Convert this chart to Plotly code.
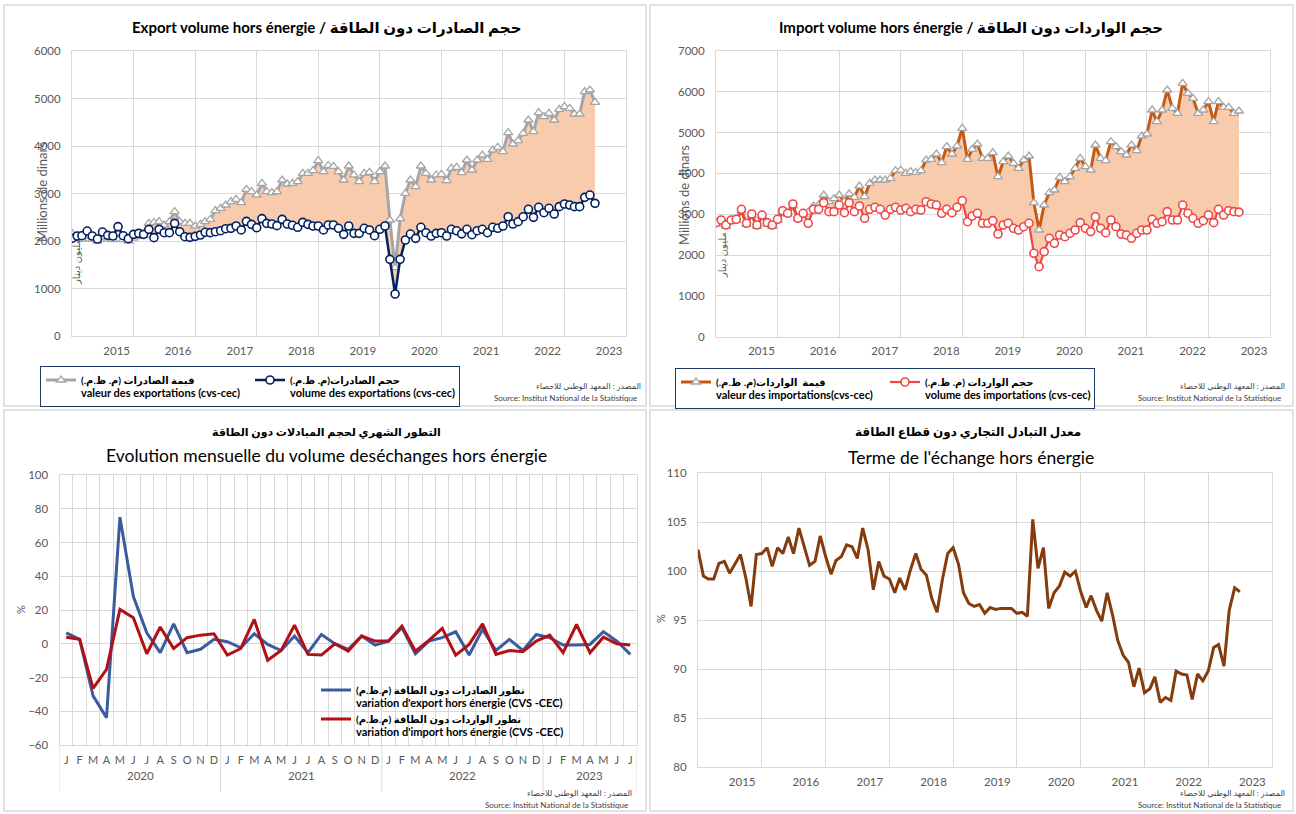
import plotly.graph_objects as go
import pandas as pd

W, H = 1296, 814
FONT = "Lato, 'DejaVu Sans', sans-serif"
GRID = "#D9D9D9"
TICK = "#595959"


def px(x):
    return x / W


def py(y):
    return 1 - y / H


# ---------------- data ----------------
months = pd.date_range("2015-01-01", periods=103, freq="MS")
years = [2015, 2016, 2017, 2018, 2019, 2020, 2021, 2022, 2023]

export_value = [2160, 2050, 2040, 2100, 2040, 2000, 2080, 2040, 2030, 2150, 2030, 2000,
                2060, 2100, 2120, 2370, 2390, 2407, 2337, 2407, 2618, 2407, 2372, 2372,
                2316, 2350, 2407, 2456, 2639, 2688, 2758, 2828, 2877, 2807, 3088, 3039,
                2968, 3214, 3039, 3018, 3039, 3284, 3200, 3214, 3249, 3425, 3425, 3481,
                3691, 3460, 3590, 3570, 3460, 3284, 3579, 3390, 3249, 3425, 3446, 3249,
                3460, 3579, 2442, 1439, 2470, 3004, 3284, 3144, 3579, 3425, 3284, 3390,
                3404, 3270, 3530, 3550, 3440, 3705, 3495, 3705, 3810, 3720, 3916, 3972,
                3881, 4281, 4042, 4112, 4267, 4547, 4302, 4702, 4618, 4688, 4547, 4772,
                4828, 4793, 4674, 4674, 5144, 5179, 4919]

export_volume = [2056, 2105, 2112, 2210, 2105, 2042, 2189, 2119, 2105, 2302, 2112, 2049,
                 2140, 2161, 2140, 2245, 2070, 2245, 2175, 2175, 2372, 2196, 2091, 2077,
                 2098, 2126, 2183, 2176, 2196, 2217, 2259, 2266, 2316, 2232, 2414, 2351,
                 2281, 2470, 2372, 2358, 2323, 2456, 2358, 2330, 2288, 2393, 2351, 2316,
                 2316, 2232, 2337, 2337, 2267, 2140, 2316, 2161, 2161, 2267, 2232, 2112,
                 2246, 2316, 1614, 884, 1614, 2021, 2147, 2056, 2288, 2175, 2105, 2161,
                 2175, 2105, 2246, 2215, 2150, 2246, 2133, 2217, 2246, 2175, 2288, 2267,
                 2316, 2512, 2358, 2407, 2512, 2667, 2498, 2709, 2596, 2688, 2568, 2723,
                 2779, 2758, 2723, 2723, 2919, 2968, 2793]

import_value = [2760, 2830, 2700, 2830, 2850, 3080, 2750, 2970, 2700, 2950, 2760, 2700,
                2850, 3050, 3000, 3200, 2880, 3000, 3050, 3200, 3225, 3470, 3306, 3380,
                3471, 3306, 3500, 3414, 3691, 3430, 3757, 3838, 3838, 3838, 3879, 4066,
                4082, 4001, 4042, 4025, 4066, 4328, 4344, 4475, 4263, 4655, 4475, 4671,
                5105, 4344, 4590, 4720, 4370, 4370, 4508, 3920, 4287, 4427, 4247, 4125,
                4328, 4427, 3280, 2613, 3225, 3527, 3593, 3904, 3797, 3920, 4125, 4370,
                4165, 4083, 4696, 4370, 4311, 4777, 4655, 4532, 4451, 4696, 4557, 4917,
                4966, 5554, 5267, 5554, 6044, 5596, 5473, 6208, 5963, 5841, 5473, 5554,
                5759, 5267, 5759, 5620, 5620, 5473, 5529]

import_volume = [2793, 2858, 2735, 2858, 2875, 3120, 2777, 3005, 2735, 2980, 2793, 2735,
                 2875, 3086, 3022, 3250, 2900, 3022, 2777, 3120, 3120, 3282, 3062, 3062,
                 3225, 3037, 3282, 3062, 3201, 2900, 3120, 3169, 3120, 2980, 3120, 3169,
                 3103, 3144, 3062, 3120, 3103, 3306, 3250, 3225, 3022, 3120, 3037, 3169,
                 3331, 2816, 2956, 3022, 2777, 2777, 2842, 2515, 2735, 2777, 2655, 2613,
                 2694, 2777, 2042, 1713, 2082, 2409, 2287, 2490, 2449, 2532, 2613, 2793,
                 2655, 2573, 2939, 2655, 2547, 2858, 2694, 2515, 2490, 2409, 2532, 2613,
                 2613, 2875, 2777, 2816, 3062, 2858, 2858, 3225, 3022, 2900, 2777, 2842,
                 2980, 2793, 3120, 2980, 3086, 3062, 3050]

terms_of_trade = [102.2, 99.5, 99.2, 99.2, 100.8, 101.0, 99.8, 100.7, 101.7, 99.4, 96.4, 101.7,
                  101.8, 102.4, 100.5, 102.4, 101.8, 103.5, 101.8, 104.4, 102.6, 100.6, 101.0, 103.6,
                  101.5, 99.7, 101.1, 101.5, 102.7, 102.5, 101.3, 104.4, 102.2, 98.1, 101.0, 99.5,
                  99.2, 97.8, 99.3, 98.1, 100.1, 101.8, 100.2, 99.6, 97.2, 95.8, 99.2, 101.8,
                  102.4, 100.7, 97.8, 96.7, 96.4, 96.6, 95.7, 96.3, 96.1, 96.2, 96.2, 96.2,
                  95.7, 95.8, 95.4, 105.3, 100.3, 102.4, 96.2, 97.8, 98.5, 99.9, 99.5, 100.0,
                  97.9, 96.3, 97.5, 96.0, 94.9, 97.8, 95.6, 92.9, 91.4, 90.7, 88.2, 90.1,
                  87.6, 88.0, 89.2, 86.6, 87.1, 86.8, 89.8, 89.5, 89.4, 86.9, 89.5, 88.8,
                  89.8, 92.2, 92.5, 90.3, 96.0, 98.3, 97.9]

month_letters = ["J", "F", "M", "A", "M", "J", "J", "A", "S", "O", "N", "D"] * 3 + \
                ["J", "F", "M", "A", "M", "J", "J"]
var_years = ["2020", "2021", "2022", "2023"]
var_year_months = [12, 12, 12, 7]

export_var = [6.5, 2.6, -30.9, -43.8, 75.0, 28.0, 6.5, -5.3, 11.8, -5.3, -3.3, 2.6,
              1.2, -2.4, 5.9, -0.4, -4.0, 4.6, -5.3, 5.5, 0.0, -3.3, 4.6, -0.8,
              1.6, 9.5, -5.9, 1.6, 3.6, 7.1, -6.7, 8.5, -4.0, 2.6, -4.0, 5.5,
              3.6, -0.8, -0.8, -0.4, 7.1, 1.6, -6.3]

import_var = [3.9, 2.6, -26.4, -15.2, 20.3, 15.4, -5.9, 9.9, -2.8, 3.6, 5.1, 5.9,
              -6.7, -2.8, 14.4, -9.8, -4.0, 11.0, -6.3, -6.7, 0.0, -4.4, 4.6, 1.6,
              1.6, 10.5, -4.4, 2.0, 9.1, -6.7, -0.4, 11.8, -6.3, -4.0, -4.7, 1.6,
              5.1, -5.3, 11.4, -5.3, 3.9, 0.0, -0.8]

# ---------------- figure ----------------
fig = go.Figure()

RLE, PDF = "\u202b", "\u202c"


def ar(t):
    return RLE + t + PDF


def legend_name(arabic, french, fsize=11):
    return ("<b>" + ar(arabic) + "</b><br><span style='font-size:%spx'><b>" % fsize
            + french + "</b></span>")


# Top-left : exports
fig.add_trace(go.Scatter(x=months, y=export_volume, mode="lines", line=dict(width=0),
                         showlegend=False, hoverinfo="skip", xaxis="x", yaxis="y"))
fig.add_trace(go.Scatter(x=months, y=export_value, mode="lines", line=dict(width=0),
                         fill="tonexty", fillcolor="#F8CBAD", showlegend=False,
                         hoverinfo="skip", xaxis="x", yaxis="y"))
fig.add_trace(go.Scatter(
    x=months, y=export_value, mode="lines+markers",
    name=legend_name("قيمة الصادرات (م. ظ.م.)", "valeur des exportations (cvs-cec)"),
    line=dict(color="#A5A5A5", width=3),
    marker=dict(symbol="triangle-up", size=8, color="white", line=dict(color="#A5A5A5", width=1.3)),
    legend="legend", xaxis="x", yaxis="y"))
fig.add_trace(go.Scatter(
    x=months, y=export_volume, mode="lines+markers",
    name=legend_name("حجم الصادرات(م. ظ.م.)", "volume des exportations (cvs-cec)"),
    line=dict(color="#002060", width=2.5),
    marker=dict(symbol="circle", size=8, color="white", line=dict(color="#002060", width=1.6)),
    legend="legend", xaxis="x", yaxis="y"))

# Top-right : imports
fig.add_trace(go.Scatter(x=months, y=import_volume, mode="lines", line=dict(width=0),
                         showlegend=False, hoverinfo="skip", xaxis="x2", yaxis="y2"))
fig.add_trace(go.Scatter(x=months, y=import_value, mode="lines", line=dict(width=0),
                         fill="tonexty", fillcolor="#F8CBAD", showlegend=False,
                         hoverinfo="skip", xaxis="x2", yaxis="y2"))
fig.add_trace(go.Scatter(
    x=months, y=import_value, mode="lines+markers",
    name=legend_name("قيمة  الواردات(م. ظ.م.)", "valeur des importations(cvs-cec)"),
    line=dict(color="#C55A11", width=3),
    marker=dict(symbol="triangle-up", size=8, color="white", line=dict(color="#A5A5A5", width=1.3)),
    legend="legend2", xaxis="x2", yaxis="y2"))
fig.add_trace(go.Scatter(
    x=months, y=import_volume, mode="lines+markers",
    name=legend_name("حجم الواردات (م. ظ.م.)", "volume des importations (cvs-cec)"),
    line=dict(color="#F04646", width=2.2),
    marker=dict(symbol="circle", size=8, color="white", line=dict(color="#F04646", width=1.6)),
    legend="legend2", xaxis="x2", yaxis="y2"))

# Bottom-left : monthly variation
idx = list(range(len(export_var)))
fig.add_trace(go.Scatter(
    x=idx, y=export_var, mode="lines",
    name=legend_name("تطور الصادرات دون الطاقة (م.ظ.م)", "variation d'export hors énergie (CVS -CEC)", 11),
    line=dict(color="#3A5C9E", width=3), legend="legend3", xaxis="x3", yaxis="y3"))
fig.add_trace(go.Scatter(
    x=idx, y=import_var, mode="lines",
    name=legend_name("تطور الواردات دون الطاقة (م.ظ.م)", "variation d'import hors énergie (CVS -CEC)", 11),
    line=dict(color="#B11116", width=3), legend="legend3", xaxis="x3", yaxis="y3"))

# Bottom-right : terms of trade
fig.add_trace(go.Scatter(x=months, y=terms_of_trade, mode="lines", showlegend=False,
                         line=dict(color="#843C0C", width=3), xaxis="x4", yaxis="y4"))

# ---------------- axes ----------------
jan_dates = [pd.Timestamp(f"{y}-01-01") for y in range(2015, 2025)]
tickfont = dict(family=FONT, size=11.5, color=TICK)


def date_xaxis(domain, anchor, offset_days):
    return dict(domain=domain, anchor=anchor, type="date", automargin=False,
                range=["2015-01-01", "2024-01-01"],
                tickmode="array",
                tickvals=[pd.Timestamp(f"{y}-01-01") + pd.Timedelta(days=offset_days) for y in years],
                ticktext=[str(y) for y in years],
                showgrid=False, zeroline=False, ticks="",
                minor=dict(tickmode="array", tickvals=jan_dates, showgrid=True,
                           gridcolor=GRID, gridwidth=1, ticks=""),
                showline=True, linecolor=GRID, linewidth=1, mirror=True,
                tickfont=tickfont, ticklabelstandoff=4)


def yaxis(domain, anchor, rng, dtick):
    return dict(domain=domain, anchor=anchor, range=rng, dtick=dtick, tick0=rng[0],
                automargin=False,
                showgrid=True, gridcolor=GRID, gridwidth=1, zeroline=False,
                showline=True, linecolor=GRID, linewidth=1, mirror=True,
                ticks="", tickfont=tickfont, ticklabelstandoff=8)


fig.update_layout(
    template="none",
    xaxis=date_xaxis([px(72), px(626)], "y", 265),
    yaxis=yaxis([py(336), py(51)], "x", [0, 6000], 1000),
    xaxis2=date_xaxis([px(716), px(1270)], "y2", 270),
    yaxis2=yaxis([py(336.6), py(51)], "x2", [0, 7000], 1000),
    xaxis3=dict(domain=[px(59.5), px(637)], anchor="y3", range=[-0.5, 42.5], automargin=False,
                tickmode="array", tickvals=idx, ticktext=month_letters,
                showgrid=False, zeroline=False, ticks="",
                minor=dict(tickmode="array", tickvals=[k - 0.5 for k in range(44)],
                           showgrid=True, gridcolor=GRID, ticks=""),
                showline=True, linecolor=GRID, mirror=True,
                tickfont=dict(family=FONT, size=11, color=TICK), ticklabelstandoff=5),
    yaxis3=yaxis([py(745), py(475)], "x3", [-60, 100], 20),
    xaxis4=date_xaxis([px(698), px(1272)], "y4", 253),
    yaxis4=yaxis([py(767), py(473.3)], "x4", [80, 110], 5),
)

# ---------------- legends ----------------
legend_common = dict(xanchor="left", yanchor="top", valign="top", tracegroupgap=0,
                     traceorder="normal",
                     font=dict(family=FONT, size=10, color="black"))
fig.update_layout(
    legend=dict(x=px(40), y=py(366), orientation="h", bordercolor="#1F3864", borderwidth=1,
                bgcolor="white", entrywidth=164, **legend_common),
    legend2=dict(x=px(675), y=py(368), orientation="h", bordercolor="#1F3864", borderwidth=1,
                 bgcolor="white", entrywidth=164, **legend_common),
    legend3=dict(x=px(316), y=py(677), orientation="v", borderwidth=0,
                 bgcolor="rgba(0,0,0,0)", **legend_common),
)

# ---------------- annotations ----------------
ann = []


def text(x, y, t, size, color="black", xanchor="center", angle=0, yanchor="middle"):
    ann.append(dict(x=px(x), y=py(y), xref="paper", yref="paper", text=t, showarrow=False,
                    xanchor=xanchor, yanchor=yanchor, textangle=angle,
                    font=dict(family=FONT, size=size, color=color)))


text(326, 27, "<b>Export volume hors énergie / حجم الصادرات دون الطاقة</b>", 15)
text(971, 27, "<b>Import volume hors énergie / حجم الواردات دون الطاقة</b>", 15)
text(326, 432, "<b>" + ar("التطور الشهري لحجم المبادلات دون الطاقة") + "</b>", 11)
text(326, 455, "Evolution mensuelle du volume deséchanges hors énergie", 17.5)
text(968, 432, "<b>" + ar("معدل التبادل التجاري دون قطاع الطاقة") + "</b>", 12)
text(971, 457, "Terme de l'échange hors énergie", 17.5)

text(42, 192, "Millions de dinars", 13, TICK, angle=-90)
text(76, 262, ar("مليون دينار"), 10, TICK, angle=-90)
text(684, 195, "Millions de dinars", 13, TICK, angle=-90)
text(722, 255, ar("مليون دينار"), 10, TICK, angle=-90)
text(20, 610, "%", 11, TICK, angle=-90)
text(660, 619, "%", 11, TICK, angle=-90)

for xr, yar, yfr in [(643, 386, 398), (1287, 386, 398), (634, 793, 805), (1287, 793, 805)]:
    text(xr, yar, ar("المصدر : المعهد الوطني للاحصاء"), 8, "#404040", xanchor="right")
    text(xr - 4, yfr, "Source: Institut National de la Statistique", 8, "#404040", xanchor="right")

# year labels under monthly chart
start = 0
for label, n in zip(var_years, var_year_months):
    ann.append(dict(x=start + (n - 1) / 2, y=py(784), xref="x3", yref="paper", text=label,
                    showarrow=False, font=dict(family=FONT, size=11.5, color=TICK)))
    start += n

fig.update_layout(annotations=ann)

# ---------------- shapes ----------------
shapes = []
for x0, y0, x1, y1 in [(4, 5, 646, 406), (650, 5, 1293, 406), (4, 410, 646, 811), (650, 410, 1293, 811)]:
    shapes.append(dict(type="rect", xref="paper", yref="paper", x0=px(x0), y0=py(y0),
                       x1=px(x1), y1=py(y1), line=dict(color=GRID, width=1.5)))
bounds = [-0.5]
acc = -0.5
for n in var_year_months:
    acc += n
    bounds.append(acc)
for b in bounds:
    shapes.append(dict(type="line", xref="x3", yref="paper", x0=b, x1=b, y0=py(745), y1=py(792),
                       line=dict(color=GRID, width=1)))
fig.update_layout(shapes=shapes)

fig.update_layout(width=W, height=H, margin=dict(l=0, r=0, t=0, b=0, pad=0, autoexpand=False),
                  paper_bgcolor="white", plot_bgcolor="white",
                  font=dict(family=FONT), hovermode=False)

fig.write_html(
    "out.html",
    post_script="document.body.style.margin='0px';document.body.style.padding='0px';"
                "document.body.style.overflow='hidden';",
)
